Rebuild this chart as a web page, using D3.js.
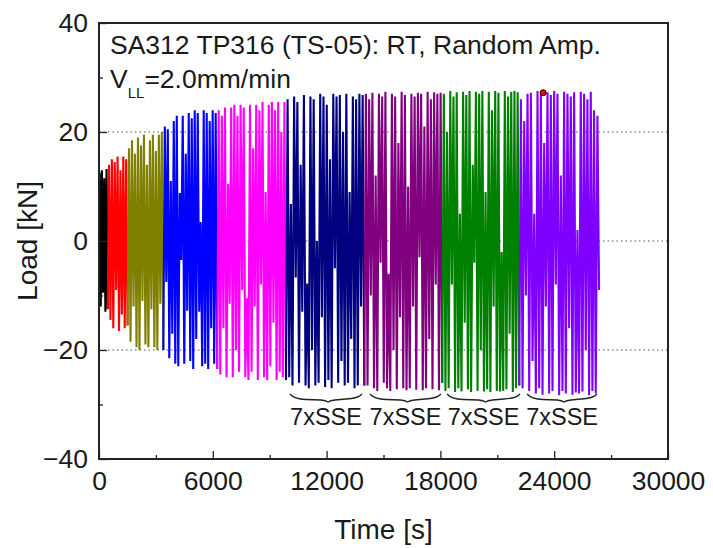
<!DOCTYPE html>
<html>
<head>
<meta charset="utf-8">
<script src="https://cdn.jsdelivr.net/npm/d3@7"></script>
<style>
  body { margin: 0; background: #fff; }
  svg text { font-family: "Liberation Sans", Arial, sans-serif; fill: #1a1a1a; }
</style>
</head>
<body>
<div id="graph"></div>
<script>
// block colours and time ranges (s)
const segColors = ["#000000", "#ff0000", "#808000", "#0000ff", "#ff00ff", "#000080", "#800080", "#008000", "#8000ff"];
const segStart = [0, 490, 1545, 3430, 6270, 9900, 14030, 18140, 22200];
const segEnd = [490, 1545, 3430, 6270, 9900, 14030, 18140, 22200, 26410];

// turning points (kN) of each block, max / min alternating
const loadBlack = [12.5, -12, 13, -9.5, 11.5, -13, 13.2, -12.5];
const loadRed = [14, -14.5, 15, -16, 14.5, -9, 15.5, -16.5, 13, -13.5, 15.5, -16, 15, -15.5];
const loadOlive = [17, -18.5, 18.5, -12, 16, -19.5, 19, -20, 17.5, -11, 19.5, -19, 14, -19.5, 18.5, -12.5,
  19.5, -19.5, 16.5, -20, 19.5, -11.5, 20, -20];
const loadBlue = [21, -7.5, 20.5, -21.5, 11, -17, 22, -22.5, 23, -23, 8.8, -3.5, 23, -22.5, 16, -12.8,
  23.5, -22, 22.5, -23.5, 24, -18, 23.5, -13, 3.5, -23, 24, -22.5, 23.5, -23.5, 22, -16, 24, -22.5, 23.5, -23.5];
const loadMagenta = [24, -24.5, 23, -16, 24.5, -25, 10.5, -11.5, 24.5, -25, 25, -20, 23, -24, 25, -9,
  24.5, -25, -10.5, -25.5, 25, -24, 17, -12, 25, -25.5, 24, -8, 25.5, -25, 9, -25.5, 25, -23, 25.5, -15,
  24, -25.5, 25.5, -24, 20, -25, 25.5, -25.5];
const loadNavy = [26, -25, 6.8, -26.5, 26.5, -6.7, 25.5, -26, 14, -13, 26.8, -26.5, -7.8, -27, 26.5, -20,
  26, -26.5, 0, -26, 27, -14, 26.5, -26.8, 25, -25.5, 15, -27, 27, -5, 26.5, -26, 26.8, -22, 20, -26.5,
  27, -26, 9, -18, 26.5, -27, 26, -26.5, 27, -12, 26.8, -26.5];
const loadPurple = [27, -26.5, 26, -10, 27.2, -27, 12, -27.5, 27, -4, 26.5, -26, 27.4, -27, -6, -27.5,
  27, -20, 26.5, -27.2, 18, -14, 27.4, -27, 26.8, -27.4, 10, -27, 27, -12, 26.5, -27.3, 27.2, -3, 27, -27.4,
  21, -27, 27.4, -18, 26, -27.2, 27.3, -8, 27, -27.4, 27.2, -26];
const loadGreen = [27, -27.5, 20, -27, 27.5, -8, 26.5, -27.7, 27.3, -27, 5, -27.6, 27.4, -15, 26.8, -27.2,
  27.5, -27.7, 14, -4, 27.4, -27.5, 27, -20, 27.5, -27.6, 9, -27.2, 27.4, -27.7, 24, -12, 27.5, -27.5,
  27.2, -27.6, -2, -27.5, 27.5, -27.2, 26.5, -17, 27.4, -27.7, 27.5, -27, 27.3, -26.5];
const loadViolet = [26, -27, 22, -10, 27, -27.5, 27.2, -22, 5, -28, 27.5, -27, 27.2, -28.2, 18, -12,
  27.3, -28, 26.8, -27.5, 27.5, -8, 27, -28.3, 12, -27.5, 27.4, -28, 27, -16, 26.5, -28.2, 27.3, -27.8,
  2, -28, 27.4, -27.6, 27, -20, 26, -28.3, 27.4, -27.5, 24, -28, 23, -9];
const segLoads = [loadBlack, loadRed, loadOlive, loadBlue, loadMagenta, loadNavy, loadPurple, loadGreen, loadViolet];

const xTicks = [0, 6000, 12000, 18000, 24000, 30000];
const xMinor = [3000, 9000, 15000, 21000, 27000];
const yTicks = [-40, -20, 0, 20, 40];
const yMinor = [-30, -10, 10, 30];
const gridLoads = [-20, 0, 20];

// 7xSSE groups
const braceStart = [10070, 14290, 18350, 22570];
const braceEnd = [13870, 18030, 22200, 26260];
const braceText = ["7xSSE", "7xSSE", "7xSSE", "7xSSE"];

const markTime = 23420;
const markLoad = 27.2;

const width = 713, height = 548;
const svg = d3.select("#graph").append("svg").attr("width", width).attr("height", height);

const x = d3.scaleLinear().domain([0, 30000]).range([99, 668]);
const y = d3.scaleLinear().domain([-40, 40]).range([459, 23]);

// dotted grid
svg.append("g").selectAll("line").data(gridLoads).enter().append("line")
  .attr("x1", x(0)).attr("x2", x(30000))
  .attr("y1", d => y(d)).attr("y2", d => y(d))
  .attr("stroke", "#555").attr("stroke-width", 1.2).attr("stroke-dasharray", "1.5,3");

// signal
const line = d3.line().x(d => x(d[0])).y(d => y(d[1]));
let prev = [0, 0];
segLoads.forEach((loads, k) => {
  const n = loads.length;
  const dt = (segEnd[k] - segStart[k]) / n;
  const pts = [prev];
  loads.forEach((v, i) => pts.push([segStart[k] + (i + 0.5) * dt, v]));
  prev = pts[pts.length - 1];
  svg.append("path").datum(pts)
    .attr("d", line)
    .attr("fill", "none")
    .attr("stroke", segColors[k])
    .attr("stroke-width", 2.1)
    .attr("stroke-linejoin", "bevel");
});

// red marker
svg.append("circle")
  .attr("cx", x(markTime)).attr("cy", y(markLoad)).attr("r", 3)
  .attr("fill", "#ff0000").attr("stroke", "#000").attr("stroke-width", 1);

// axes
svg.append("g").attr("transform", `translate(0,${y(-40)})`)
  .call(d3.axisBottom(x).tickValues(xTicks).tickSize(-8).tickPadding(12).tickFormat(d3.format("d")));
svg.append("g").attr("transform", `translate(0,${y(-40)})`)
  .call(d3.axisBottom(x).tickValues(xMinor).tickSize(-4).tickFormat(""));
svg.append("g").attr("transform", `translate(${x(0)},0)`)
  .call(d3.axisLeft(y).tickValues(yTicks).tickSize(-8).tickPadding(11));
svg.append("g").attr("transform", `translate(${x(0)},0)`)
  .call(d3.axisLeft(y).tickValues(yMinor).tickSize(-4).tickFormat(""));
svg.selectAll(".domain").remove();
svg.selectAll(".tick line").attr("stroke", "#222").attr("stroke-width", 1.3);
svg.selectAll(".tick text").style("font-size", "26.5px").attr("fill", "#1a1a1a");

// frame
svg.append("rect")
  .attr("x", x(0)).attr("y", y(40))
  .attr("width", x(30000) - x(0)).attr("height", y(-40) - y(40))
  .attr("fill", "none").attr("stroke", "#222").attr("stroke-width", 2);

// axis titles
svg.append("text").attr("x", (x(0) + x(30000)) / 2).attr("y", 539)
  .attr("text-anchor", "middle").style("font-size", "28px").text("Time [s]");
svg.append("text")
  .attr("transform", `translate(37,${(y(40) + y(-40)) / 2}) rotate(-90)`)
  .attr("text-anchor", "middle").style("font-size", "28px").text("Load [kN]");

// annotation
svg.append("text").attr("x", 110).attr("y", 54).style("font-size", "26.5px")
  .text("SA312 TP316 (TS-05): RT, Random Amp.");
const t2 = svg.append("text").attr("x", 110).attr("y", 88).style("font-size", "26.5px");
t2.append("tspan").text("V");
t2.append("tspan").attr("dy", 10).style("font-size", "15px").text("LL");
t2.append("tspan").attr("dy", -10).text("=2.0mm/min");

// braces and labels
braceStart.forEach((t0, i) => {
  const x0 = x(t0), x1 = x(braceEnd[i]);
  const m = (x0 + x1) / 2, top = 394;
  const p = d3.path();
  p.moveTo(x0, top);
  p.quadraticCurveTo(x0 + 4, top + 5, x0 + 16, top + 5.5);
  p.lineTo(m - 5, top + 6);
  p.quadraticCurveTo(m, top + 6.5, m + 2, top + 8);
  p.quadraticCurveTo(m + 4, top + 6.5, m + 9, top + 6);
  p.lineTo(x1 - 16, top + 5);
  p.quadraticCurveTo(x1 - 4, top + 4.5, x1, top);
  svg.append("path").attr("d", p.toString()).attr("fill", "none")
    .attr("stroke", "#222").attr("stroke-width", 1.3);
  svg.append("text").attr("x", m).attr("y", 425).attr("text-anchor", "middle")
    .style("font-size", "23.5px").text(braceText[i]);
});
</script>
</body>
</html>
